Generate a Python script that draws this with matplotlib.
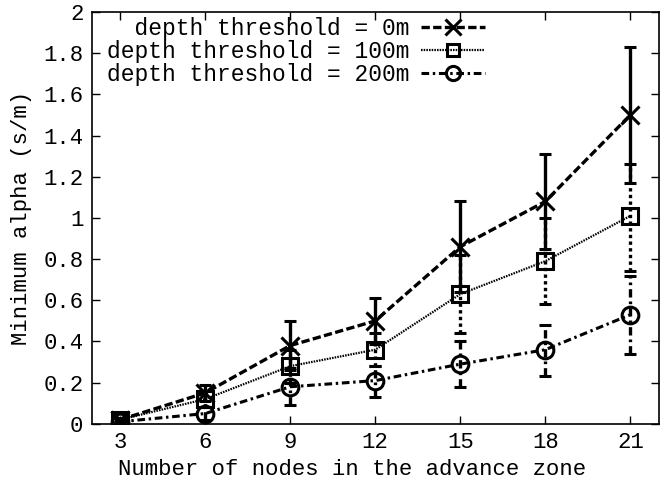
import matplotlib
matplotlib.use('Agg')
import matplotlib.pyplot as plt
from matplotlib.ticker import FuncFormatter

# values
nodes = [3, 6, 9, 12, 15, 18, 21]

alpha_0m = [0.02, 0.15, 0.38, 0.50, 0.86, 1.08, 1.50]
lo_0m = [0.01, 0.11, 0.26, 0.39, 0.64, 0.85, 1.17]
hi_0m = [0.03, 0.19, 0.50, 0.61, 1.08, 1.31, 1.83]

alpha_100m = [0.02, 0.12, 0.28, 0.36, 0.63, 0.79, 1.01]
lo_100m = [0.01, 0.08, 0.20, 0.28, 0.44, 0.58, 0.74]
hi_100m = [0.03, 0.16, 0.36, 0.44, 0.82, 1.00, 1.26]

alpha_200m = [0.01, 0.05, 0.18, 0.21, 0.29, 0.36, 0.53]
lo_200m = [0.005, 0.02, 0.09, 0.13, 0.18, 0.23, 0.34]
hi_200m = [0.02, 0.08, 0.27, 0.28, 0.40, 0.48, 0.72]

labels = ['  depth threshold = 0m', 'depth threshold = 100m', 'depth threshold = 200m']

plt.rcParams['font.family'] = ['Liberation Mono', 'DejaVu Sans Mono']
plt.rcParams['font.size'] = 16

fig = plt.figure(figsize=(6.6, 4.8), dpi=100)
ax = fig.add_axes([0.139, 0.117, 0.859, 0.858])

series = [
    (alpha_0m, lo_0m, hi_0m, 'x', (0, (2.5, 1.0)), '-', 13, 2.4),
    (alpha_100m, lo_100m, hi_100m, 's', (0, (0.7, 0.5)), (0, (1, 1)), 11, 1.6),
    (alpha_200m, lo_200m, hi_200m, 'o', (0, (2.5, 1.2, 0.8, 1.2)), (0, (2.5, 1.2, 0.8, 1.2)), 12, 2.2),
]

handles = []
for (y, lo, hi, mk, ls, els, ms, lw), lab in zip(series, labels):
    err = [[v - l for v, l in zip(y, lo)], [h - v for v, h in zip(y, hi)]]
    cont = ax.errorbar(nodes, y, yerr=err, color='black', marker=mk, ms=ms,
                       mfc='none', mew=2.2, ls=ls, lw=lw, elinewidth=2.4,
                       capsize=4, capthick=2, label=lab)
    for bc in cont[2]:
        bc.set_linestyle(els)
    handles.append(cont[0])

ax.set_xlim(2, 22)
ax.set_ylim(0, 2)
ax.set_xticks(nodes)
ax.set_yticks([i * 0.2 for i in range(11)])
ax.yaxis.set_major_formatter(FuncFormatter(lambda v, p: '%g' % round(v, 1)))
ax.tick_params(direction='in', top=True, right=True, length=6, width=1, pad=6)
for sp in ax.spines.values():
    sp.set_linewidth(1.2)

ax.set_xlabel('Number of nodes in the advance zone', labelpad=4)
ax.xaxis.set_label_coords(0.46, -0.085)
ax.set_ylabel('Minimum alpha (s/m)', labelpad=8)

ax.legend(handles, labels, loc='upper left', frameon=False, markerfirst=False,
          fontsize=16.5, handlelength=2.8, handletextpad=0.5, borderaxespad=0.0,
          labelspacing=0.0, markerscale=0.85, bbox_to_anchor=(0.01, 1.01))

fig.savefig('out.png', dpi=100)
